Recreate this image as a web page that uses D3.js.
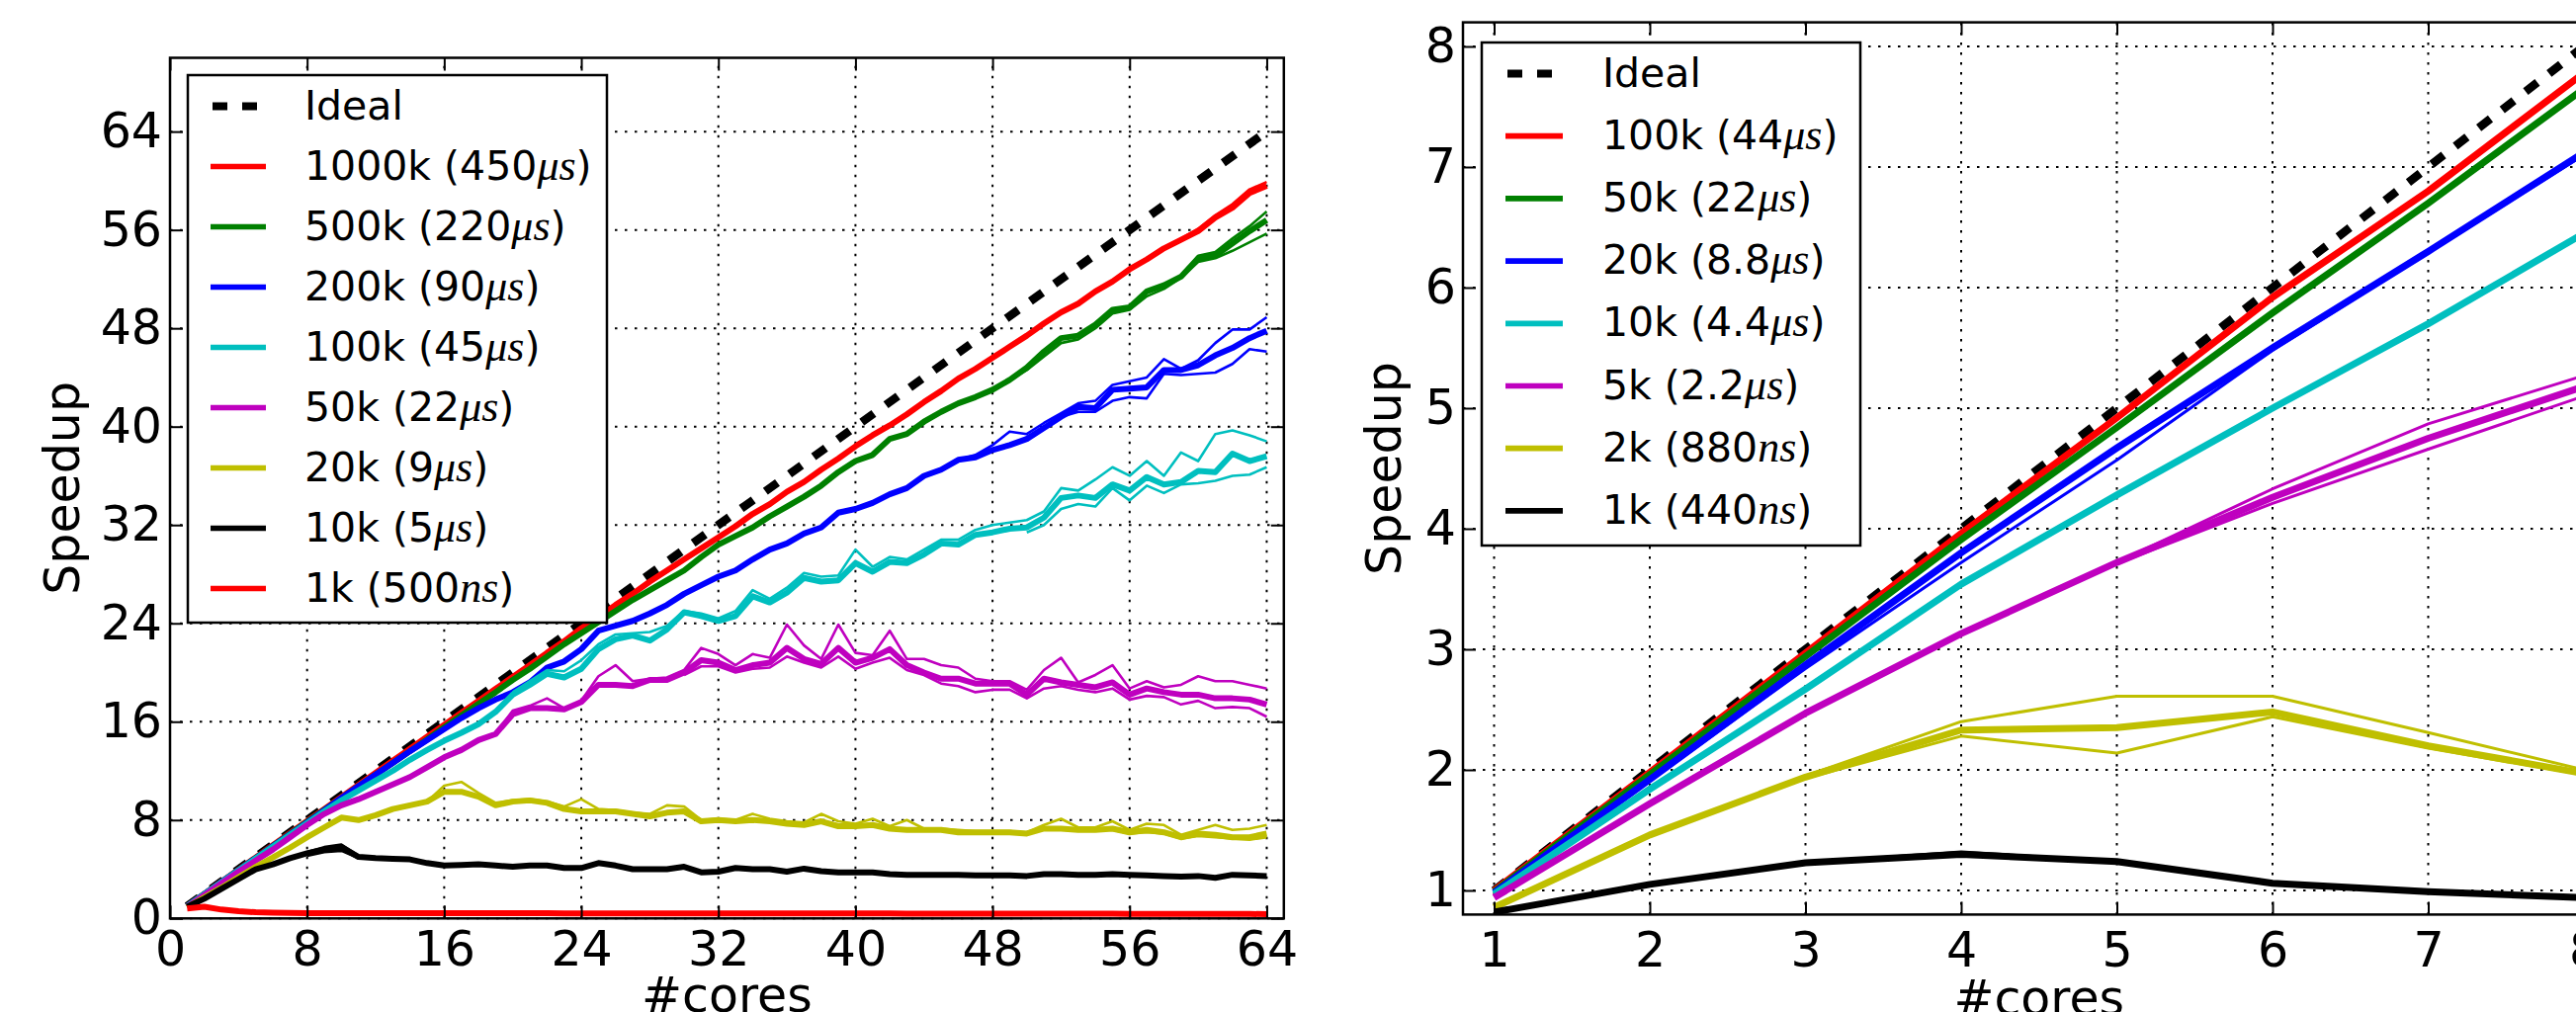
<!DOCTYPE html>
<html lang="en">
<head>
<meta charset="UTF-8" />
<title>Speedup vs #cores</title>
<style>
  body { margin: 0; background: #fff; overflow: hidden; }
  svg { display: block; font-family: "DejaVu Sans", sans-serif; }
  .tick text { font-size: 49px; fill: #000; font-family: "DejaVu Sans", sans-serif; }
  .tick line { stroke: #000; stroke-width: 2; }
</style>
</head>
<body>
<svg id="chart"></svg>
<script src="https://d3js.org/d3.v7.min.js"></script>
<script>
// ---------- left panel data (x = #cores 1..64) ----------
const coresLeft = [1,2,3,4,5,6,7,8,9,10,11,12,13,14,15,16,17,18,19,20,21,22,23,24,25,26,27,28,29,30,31,32,
  33,34,35,36,37,38,39,40,41,42,43,44,45,46,47,48,49,50,51,52,53,54,55,56,57,58,59,60,61,62,63,64];
const xTicksLeft = [0, 8, 16, 24, 32, 40, 48, 56, 64];
const yTicksLeft = [0, 8, 16, 24, 32, 40, 48, 56, 64];
const idealLeft = [[1, 1], [64, 64]];

const red1000k = [1.00,1.99,2.98,3.97,4.96,5.95,6.94,7.92,8.90,9.88,
  10.86,11.84,12.82,13.80,14.77,15.75,16.72,17.70,18.67,19.64,
  20.60,21.60,22.55,23.60,24.50,25.50,26.40,27.40,28.30,29.20,
  30.10,31.00,31.90,32.90,33.70,34.70,35.50,36.50,37.40,38.40,
  39.30,40.10,41.00,42.00,42.90,43.90,44.70,45.60,46.50,47.40,
  48.40,49.30,50.00,51.00,51.80,52.80,53.60,54.50,55.20,55.90,
  57.00,57.80,59.00,59.60];
const green500k = [1.00,1.98,2.96,3.94,4.92,5.90,6.88,7.86,8.83,9.80,
  10.75,11.70,12.65,13.60,14.55,15.55,16.50,17.45,18.40,19.40,
  20.30,21.30,22.30,23.20,24.10,25.00,25.90,26.70,27.50,28.30,
  29.40,30.40,31.10,31.80,32.70,33.50,34.30,35.20,36.30,37.20,
  37.70,39.00,39.40,40.40,41.20,41.90,42.40,43.00,43.80,44.80,
  46.10,47.20,47.40,48.30,49.50,49.70,51.00,51.50,52.20,53.70,
  53.90,54.90,55.90,56.80];
const blue200k = [1.00,1.98,2.96,3.93,4.90,5.87,6.84,7.80,8.78,9.80,
  10.75,11.70,12.65,13.60,14.50,15.40,16.30,17.10,17.80,18.40,
  19.20,20.40,20.90,21.90,23.40,23.80,24.20,24.80,25.50,26.40,
  27.10,27.80,28.30,29.20,30.00,30.50,31.30,31.80,33.00,33.30,
  33.80,34.50,35.00,36.00,36.50,37.30,37.50,38.10,38.50,39.00,
  39.90,40.80,41.60,41.50,43.00,43.10,43.20,44.60,44.60,45.00,
  45.80,46.40,47.20,47.80];
const cyan100k = [1.00,1.97,2.94,3.90,4.87,5.83,6.80,7.75,8.70,9.60,
  10.40,11.20,12.00,12.90,13.70,14.45,15.10,15.80,16.80,18.20,
  19.00,19.90,19.60,20.30,21.90,22.70,23.00,22.60,23.50,24.90,
  24.60,24.20,24.60,26.20,25.70,26.50,27.70,27.40,27.50,28.90,
  28.20,29.00,28.90,29.60,30.50,30.40,31.20,31.40,31.70,31.80,
  32.60,34.20,34.40,34.20,35.30,34.80,35.90,35.30,35.50,36.40,
  36.30,37.80,37.20,37.60];
const magenta50k = [0.95,1.90,2.85,3.80,4.70,5.60,6.60,7.60,8.50,9.20,
  9.70,10.30,10.90,11.50,12.30,13.10,13.70,14.50,15.00,16.60,
  17.10,17.10,17.00,17.60,19.00,19.00,18.90,19.40,19.40,20.00,
  21.00,20.80,20.20,20.60,20.80,22.00,21.10,20.70,22.00,20.80,
  21.20,21.90,20.60,20.00,19.50,19.50,19.10,19.10,19.10,18.20,
  19.50,19.20,19.00,18.80,19.20,18.20,18.70,18.40,18.20,18.20,
  17.90,17.90,17.80,17.40];
const yellow20k = [0.90,1.70,2.50,3.35,4.20,4.95,5.75,6.60,7.40,8.20,
  8.00,8.40,8.90,9.20,9.50,10.30,10.30,9.90,9.20,9.50,
  9.60,9.40,8.90,8.70,8.70,8.70,8.50,8.30,8.60,8.70,
  7.90,8.00,7.90,8.00,7.90,7.70,7.60,7.90,7.50,7.50,
  7.60,7.30,7.20,7.20,7.20,7.00,7.00,7.00,7.00,6.90,
  7.30,7.30,7.20,7.20,7.30,7.00,7.20,7.00,6.60,6.90,
  6.80,6.60,6.60,6.90];
const black10k = [0.95,1.60,2.40,3.20,4.00,4.40,4.90,5.30,5.60,5.80,
  5.00,4.90,4.85,4.80,4.50,4.30,4.35,4.40,4.30,4.20,
  4.30,4.30,4.10,4.10,4.50,4.30,4.00,4.00,4.00,4.20,
  3.75,3.80,4.10,4.00,4.00,3.80,4.05,3.85,3.75,3.75,
  3.75,3.60,3.55,3.55,3.55,3.55,3.50,3.50,3.50,3.45,
  3.60,3.60,3.55,3.55,3.60,3.55,3.50,3.45,3.40,3.45,
  3.30,3.55,3.50,3.45];
const red1k = [0.80,0.95,0.72,0.58,0.50,0.46,0.44,0.43,0.43,0.42,
  0.42,0.42,0.42,0.42,0.42,0.42,0.42,0.42,0.42,0.42,
  0.42,0.42,0.41,0.41,0.41,0.41,0.41,0.41,0.40,0.40,
  0.40,0.40,0.40,0.40,0.40,0.40,0.40,0.40,0.40,0.40,
  0.40,0.40,0.39,0.39,0.39,0.39,0.38,0.38,0.38,0.38,
  0.38,0.38,0.38,0.38,0.38,0.37,0.37,0.37,0.37,0.36,
  0.36,0.36,0.36,0.35];

// individual runs that stray from the main curve: [cores, speedup]
const red1000kRunHi = [[58,54.5],[59,55.3],[60,56.1],[61,57.2],[62,58.1],[63,59.3],[64,59.9]];
const green500kRunHi = [[59,52.2],[60,53.9],[61,54.2],[62,55.3],[63,56.3],[64,57.5]];
const green500kRunLo = [[49,43.8],[50,44.6],[51,45.7],[52,46.8],[53,47.1],[54,48.0],[55,49.2],[56,49.5],
  [57,50.6],[58,51.2],[59,52.1],[60,53.4],[61,53.7],[62,54.3],[63,55.0],[64,55.7]];
const blue200kRunHi = [[46,37.3],[47,37.7],[48,38.5],[49,39.6],[50,39.4],[51,40.3],[52,41.1],[53,41.9],
  [54,42.1],[55,43.4],[56,43.7],[57,44.0],[58,45.5],[59,44.7],[60,45.4],[61,46.8],[62,47.9],[63,47.9],[64,48.9]];
const blue200kRunLo = [[52,40.8],[53,41.2],[54,41.2],[55,42.1],[56,42.4],[57,42.3],[58,44.3],[59,44.2],
  [60,44.3],[61,44.4],[62,45.1],[63,46.3],[64,46.1]];
const cyan100kRunHi = [[20,18.4],[21,19.3],[22,20.2],[23,20.1],[24,21.0],[25,22.3],[26,23.1],[27,23.2],
  [28,23.3],[29,23.8],[30,25.0],[31,24.8],[32,24.4],[33,25.0],[34,26.7],[35,26.0],[36,26.9],[37,28.1],
  [38,27.8],[39,27.9],[40,30.0],[41,28.6],[42,29.4],[43,29.2],[44,30.0],[45,30.8],[46,30.8],[47,31.6],
  [48,32.0],[49,32.2],[50,32.4],[51,33.1],[52,35.0],[53,34.8],[54,35.7],[55,36.7],[56,36.0],[57,37.2],
  [58,36.0],[59,37.9],[60,37.2],[61,39.4],[62,39.7],[63,39.3],[64,38.8]];
const cyan100kRunLo = [[50,31.4],[51,32.0],[52,33.3],[53,33.7],[54,33.5],[55,35.0],[56,34.0],[57,35.2],
  [58,34.6],[59,35.3],[60,35.4],[61,35.6],[62,36.0],[63,36.1],[64,36.7]];
const magenta50kRunHi = [[19,15.0],[20,16.9],[21,17.3],[22,17.9],[23,17.1],[24,17.7],[25,19.7],[26,20.6],
  [27,19.3],[28,19.5],[29,19.6],[30,20.2],[31,22.0],[32,21.5],[33,20.6],[34,21.5],[35,21.2],[36,23.9],
  [37,22.2],[38,21.1],[39,23.9],[40,21.6],[41,21.4],[42,23.4],[43,21.1],[44,21.1],[45,20.6],[46,20.4],
  [47,19.5],[48,19.3],[49,19.3],[50,18.6],[51,20.2],[52,21.2],[53,19.2],[54,19.8],[55,20.6],[56,18.7],
  [57,19.3],[58,18.8],[59,19.0],[60,19.7],[61,19.3],[62,19.3],[63,19.0],[64,18.7]];
const magenta50kRunLo = [[30,19.8],[31,20.5],[32,20.5],[33,20.0],[34,20.3],[35,20.4],[36,21.3],[37,20.8],
  [38,20.4],[39,21.3],[40,20.3],[41,20.8],[42,21.2],[43,20.2],[44,19.8],[45,19.1],[46,18.9],[47,18.4],
  [48,18.6],[49,18.6],[50,17.9],[51,18.7],[52,18.9],[53,18.6],[54,18.4],[55,18.7],[56,17.8],[57,18.1],
  [58,18.0],[59,17.4],[60,17.7],[61,17.1],[62,17.2],[63,17.1],[64,16.4]];
const yellow20kRunHi = [[15,9.5],[16,10.8],[17,11.1],[18,10.2],[19,9.4],[20,9.6],[21,9.7],[22,9.5],
  [23,9.1],[24,9.7],[25,8.9],[26,8.8],[27,8.6],[28,8.5],[29,9.2],[30,9.1],[31,8.0],[32,8.1],[33,8.0],
  [34,8.5],[35,8.1],[36,7.9],[37,7.8],[38,8.5],[39,7.9],[40,7.7],[41,8.1],[42,7.5],[43,8.0],[44,7.3],
  [45,7.3],[46,7.2],[47,7.1],[48,7.1],[49,7.1],[50,7.0],[51,7.6],[52,8.1],[53,7.4],[54,7.4],[55,7.9],
  [56,7.2],[57,7.7],[58,7.6],[59,6.8],[60,7.2],[61,7.6],[62,7.2],[63,7.3],[64,7.6]];
const yellow20kRunLo = [[55,7.2],[56,6.9],[57,7.0],[58,6.9],[59,6.5],[60,6.7],[61,6.6],[62,6.5],[63,6.4],[64,6.6]];
const black10kRunHi = [[8,5.4],[9,5.8],[10,6.0],[11,5.1]];
const black10kRunLo = [[8,5.1],[9,5.4],[10,5.5],[11,4.9]];

const legendLeftNames = ["Ideal", "1000k", "500k", "200k", "100k", "50k", "20k", "10k", "1k"];
const legendLeftTimes = ["", "450", "220", "90", "45", "22", "9", "5", "500"];
const legendLeftUnits = ["", "\u03bcs", "\u03bcs", "\u03bcs", "\u03bcs", "\u03bcs", "\u03bcs", "\u03bcs", "ns"];

// ---------- right panel data (x = #cores 1..8) ----------
const coresRight = [1, 2, 3, 4, 5, 6, 7, 8];
const xTicksRight = [1, 2, 3, 4, 5, 6, 7, 8];
const yTicksRight = [1, 2, 3, 4, 5, 6, 7, 8];
const idealRight = [[1, 1], [8, 8]];

const red100k = [1.00, 1.98, 2.97, 3.96, 4.92, 5.92, 6.80, 7.78];
const green50k = [0.99, 1.96, 2.94, 3.91, 4.84, 5.79, 6.70, 7.65];
const blue20k = [0.98, 1.92, 2.87, 3.80, 4.67, 5.50, 6.30, 7.12];
const cyan10k = [0.97, 1.84, 2.67, 3.54, 4.28, 5.00, 5.70, 6.45];
const magenta5k = [0.94, 1.72, 2.47, 3.13, 3.72, 4.26, 4.75, 5.18];
const yellow2k = [0.86, 1.46, 1.94, 2.33, 2.35, 2.48, 2.20, 1.97];
const black1k = [0.82, 1.05, 1.23, 1.30, 1.24, 1.06, 0.99, 0.94];

const blue20kRunLo = [[2,1.91],[3,2.84],[4,3.72],[5,4.57],[6,5.48],[7,6.29],[8,7.10]];
const magenta5kRunHi = [[5,3.72],[6,4.33],[7,4.87],[8,5.27]];
const magenta5kRunLo = [[5,3.71],[6,4.21],[7,4.66],[8,5.10]];
const yellow2kRunHi = [[3,1.95],[4,2.40],[5,2.61],[6,2.61],[7,2.31],[8,2.00]];
const yellow2kRunLo = [[3,1.93],[4,2.28],[5,2.14],[6,2.44],[7,2.18],[8,1.96]];
const black1kRunHi = [[3,1.23],[4,1.32],[5,1.24]];

const legendRightNames = ["Ideal", "100k", "50k", "20k", "10k", "5k", "2k", "1k"];
const legendRightTimes = ["", "44", "22", "8.8", "4.4", "2.2", "880", "440"];
const legendRightUnits = ["", "\u03bcs", "\u03bcs", "\u03bcs", "\u03bcs", "\u03bcs", "ns", "ns"];

// ---------- drawing ----------
const W = 2606, H = 1024;
const svg = d3.select("#chart").attr("width", W).attr("height", H);

const C = { r: "#ff0000", g: "#008000", b: "#0000ff", c: "#00bfbf", m: "#bf00bf", y: "#bfbf00", k: "#000000" };

const panels = [
  {
    id: "L", cores: coresLeft, ideal: idealLeft,
    xDomain: [0, 65], xRange: [172, 1298.8], yDomain: [0, 70], yRange: [929.3, 58.5],
    xTicks: xTicksLeft, yTicks: yTicksLeft, padX: 13, padY: 8,
    ylabelX: 80, xlabelY: 1024, mainW: 6, runW: 2.6,
    series: [
      { color: C.r, values: red1000k, runs: [red1000kRunHi] },
      { color: C.g, values: green500k, runs: [green500kRunHi, green500kRunLo] },
      { color: C.b, values: blue200k, runs: [blue200kRunHi, blue200kRunLo] },
      { color: C.c, values: cyan100k, runs: [cyan100kRunHi, cyan100kRunLo] },
      { color: C.m, values: magenta50k, runs: [magenta50kRunHi, magenta50kRunLo] },
      { color: C.y, values: yellow20k, runs: [yellow20kRunHi, yellow20kRunLo] },
      { color: C.k, values: black10k, runs: [black10kRunHi, black10kRunLo] },
      { color: C.r, values: red1k, runs: [] }
    ],
    legend: { x: 190, y: 76, w: 424, h: 554, row0: 107.5, step: 61, hx0: 213, hx1: 269, tx: 308,
      names: legendLeftNames, times: legendLeftTimes, units: legendLeftUnits }
  },
  {
    id: "R", cores: coresRight, ideal: idealRight,
    xDomain: [0.8, 8.2], xRange: [1480, 2645.5], yDomain: [0.8, 8.2], yRange: [925.4, 22.6],
    xTicks: xTicksRight, yTicks: yTicksRight, padX: 18, padY: 7,
    ylabelX: 1417, xlabelY: 1027, mainW: 7, runW: 3,
    series: [
      { color: C.r, values: red100k, runs: [] },
      { color: C.g, values: green50k, runs: [] },
      { color: C.b, values: blue20k, runs: [blue20kRunLo] },
      { color: C.c, values: cyan10k, runs: [] },
      { color: C.m, values: magenta5k, runs: [magenta5kRunHi, magenta5kRunLo] },
      { color: C.y, values: yellow2k, runs: [yellow2kRunHi, yellow2kRunLo] },
      { color: C.k, values: black1k, runs: [black1kRunHi] }
    ],
    legend: { x: 1499, y: 43, w: 383, h: 509, row0: 74.5, step: 63.2, hx0: 1523, hx1: 1581, tx: 1621,
      names: legendRightNames, times: legendRightTimes, units: legendRightUnits }
  }
];

panels.forEach(p => {
  const x = d3.scaleLinear().domain(p.xDomain).range(p.xRange);
  const y = d3.scaleLinear().domain(p.yDomain).range(p.yRange);
  const [x0, x1] = p.xRange, [y0, y1] = p.yRange;
  const g = svg.append("g");

  g.append("clipPath").attr("id", "clip" + p.id)
    .append("rect").attr("x", x0).attr("y", y1).attr("width", x1 - x0).attr("height", y0 - y1);

  // dotted grid
  const grid = g.append("g").attr("stroke", "#000").attr("stroke-width", 2).attr("stroke-dasharray", "2.5,7.5");
  p.xTicks.forEach(t => grid.append("line").attr("x1", x(t)).attr("x2", x(t)).attr("y1", y0).attr("y2", y1));
  p.yTicks.forEach(t => grid.append("line").attr("y1", y(t)).attr("y2", y(t)).attr("x1", x0).attr("x2", x1));

  const plot = g.append("g").attr("clip-path", `url(#clip${p.id})`)
    .attr("fill", "none").attr("stroke-linejoin", "round");
  const line = d3.line().x(d => x(d[0])).y(d => y(d[1]));

  plot.append("path").datum(p.ideal).attr("d", line)
    .attr("stroke", "#000").attr("stroke-width", 8.5).attr("stroke-dasharray", "15,15");

  p.series.forEach(s => {
    s.runs.forEach(r => plot.append("path").datum(r).attr("d", line)
      .attr("stroke", s.color).attr("stroke-width", p.runW));
    plot.append("path").datum(s.values.map((v, i) => [p.cores[i], v])).attr("d", line)
      .attr("stroke", s.color).attr("stroke-width", p.mainW);
  });

  // axes with inward ticks on all four sides
  const bottom = g.append("g").attr("transform", `translate(0,${y0})`)
    .call(d3.axisBottom(x).tickValues(p.xTicks).tickFormat(d3.format("d")).tickSize(-13).tickPadding(p.padX));
  const left = g.append("g").attr("transform", `translate(${x0},0)`)
    .call(d3.axisLeft(y).tickValues(p.yTicks).tickFormat(d3.format("d")).tickSize(-13).tickPadding(p.padY));
  const top = g.append("g").attr("transform", `translate(0,${y1})`)
    .call(d3.axisTop(x).tickValues(p.xTicks).tickFormat("").tickSize(-13));
  const right = g.append("g").attr("transform", `translate(${x1},0)`)
    .call(d3.axisRight(y).tickValues(p.yTicks).tickFormat("").tickSize(-13));
  [bottom, left, top, right].forEach(a => a.select(".domain").remove());
  g.selectAll(".tick text").attr("font-size", null).attr("font-family", null);

  g.append("rect").attr("x", x0).attr("y", y1).attr("width", x1 - x0).attr("height", y0 - y1)
    .attr("fill", "none").attr("stroke", "#000").attr("stroke-width", 2.5);

  // axis titles
  g.append("text").attr("transform", `translate(${p.ylabelX},${(y0 + y1) / 2}) rotate(-90)`)
    .attr("text-anchor", "middle").attr("font-size", 49).text("Speedup");
  g.append("text").attr("x", (x0 + x1) / 2).attr("y", p.xlabelY)
    .attr("text-anchor", "middle").attr("font-size", 49).text("#cores");

  // legend
  const L = p.legend;
  const lg = g.append("g");
  lg.append("rect").attr("x", L.x).attr("y", L.y).attr("width", L.w).attr("height", L.h)
    .attr("fill", "#fff").attr("stroke", "#000").attr("stroke-width", 2.5);
  L.names.forEach((name, i) => {
    const ry = L.row0 + i * L.step;
    const dashed = i === 0;
    lg.append("line").attr("x1", dashed ? L.hx0 + 2 : L.hx0).attr("x2", L.hx1)
      .attr("y1", ry).attr("y2", ry)
      .attr("stroke", dashed ? "#000" : p.series[i - 1].color)
      .attr("stroke-width", dashed ? 8 : 5.7)
      .attr("stroke-dasharray", dashed ? "15,15" : null);
    const t = lg.append("text").attr("x", L.tx).attr("y", ry + 13).attr("font-size", 41);
    if (dashed) { t.text(name); return; }
    t.append("tspan").text(`${name} (${L.times[i]}`);
    t.append("tspan").attr("font-family", "'Liberation Serif', serif").attr("font-style", "italic")
      .attr("font-size", 44).text(L.units[i]);
    t.append("tspan").text(")");
  });
});
</script>
</body>
</html>
